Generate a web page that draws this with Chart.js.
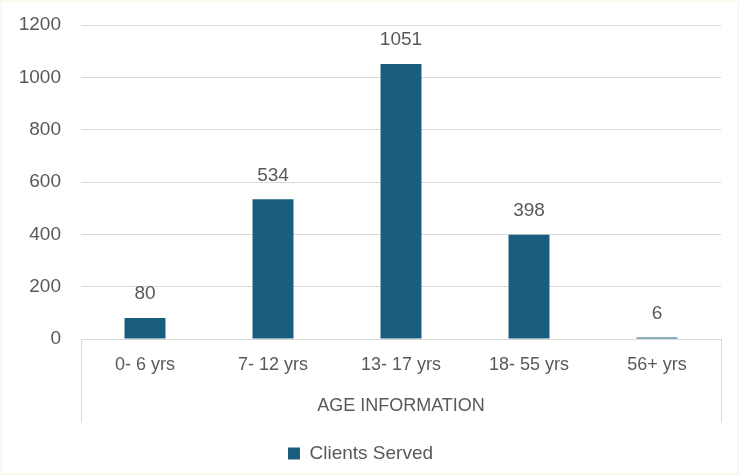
<!DOCTYPE html>
<html>
<head>
<meta charset="utf-8">
<script src="https://cdn.jsdelivr.net/npm/chart.js@4"></script>
<style>
  html, body { margin: 0; padding: 0; background: #ffffff; }
  #wrap { width: 739px; height: 475px; position: relative; }
</style>
</head>
<body>
<div id="wrap"><canvas id="ageChart" width="739" height="475"></canvas></div>
<script>
// Chart data
const ageGroups = ["0- 6 yrs", "7- 12 yrs", "13- 17 yrs", "18- 55 yrs", "56+ yrs"];
const clientsServed = [80, 534, 1051, 398, 6];
const yTicks = [0, 200, 400, 600, 800, 1000, 1200];
const seriesName = "Clients Served";
const axisTitle = "AGE INFORMATION";

const textColor = "#595959";
const barColor = "#1a5e7f";
const gridColor = "#d9d9d9";
const fontFamily = "'Liberation Sans', Arial, sans-serif";

// White page with a faint cream frame
const backgroundPlugin = {
  id: "background",
  beforeDraw(chart) {
    const ctx = chart.ctx;
    ctx.save();
    ctx.fillStyle = "#ffffff";
    ctx.fillRect(0, 0, chart.width, chart.height);
    ctx.strokeStyle = "#fdf8ee";
    ctx.lineWidth = 2;
    ctx.strokeRect(1, 1, chart.width - 2, chart.height - 2);
    ctx.restore();
  }
};

// Left and right edges of the category axis box
const axisBoxPlugin = {
  id: "axisBox",
  afterDraw(chart) {
    const area = chart.chartArea;
    const ctx = chart.ctx;
    ctx.save();
    ctx.strokeStyle = gridColor;
    ctx.lineWidth = 1;
    ctx.beginPath();
    ctx.moveTo(Math.round(area.left) + 0.5, area.bottom);
    ctx.lineTo(Math.round(area.left) + 0.5, area.bottom + 84);
    ctx.moveTo(Math.round(area.right) + 0.5, area.bottom);
    ctx.lineTo(Math.round(area.right) + 0.5, area.bottom + 84);
    ctx.stroke();
    ctx.restore();
  }
};

// Value labels over each bar
const valueLabelPlugin = {
  id: "valueLabels",
  afterDatasetsDraw(chart) {
    const ctx = chart.ctx;
    const meta = chart.getDatasetMeta(0);
    ctx.save();
    ctx.fillStyle = textColor;
    ctx.font = "19px " + fontFamily;
    ctx.textAlign = "center";
    ctx.textBaseline = "middle";
    meta.data.forEach((bar, i) => {
      ctx.fillText(String(clientsServed[i]), bar.x, bar.y - 24);
    });
    ctx.restore();
  }
};

const ctx = document.getElementById("ageChart").getContext("2d");
new Chart(ctx, {
  type: "bar",
  data: {
    labels: ageGroups,
    datasets: [{
      label: seriesName,
      data: clientsServed,
      backgroundColor: barColor,
      borderWidth: 0,
      categoryPercentage: 1,
      barPercentage: 0.32
    }]
  },
  options: {
    responsive: false,
    animation: false,
    devicePixelRatio: 1,
    layout: { padding: { top: 25, right: 18, left: 0, bottom: 2 } },
    plugins: {
      tooltip: { enabled: false },
      legend: {
        position: "bottom",
        labels: {
          color: textColor,
          font: { family: fontFamily, size: 19 },
          boxWidth: 12,
          boxHeight: 12,
          padding: 10
        }
      }
    },
    scales: {
      x: {
        grid: { display: false },
        border: { display: false },
        ticks: {
          color: textColor,
          font: { family: fontFamily, size: 18 },
          padding: 7,
          maxRotation: 0
        },
        title: {
          display: true,
          text: axisTitle,
          color: textColor,
          font: { family: fontFamily, size: 18 },
          padding: { top: 0, bottom: 17 }
        },
        afterFit(scale) { scale.height = 95; }
      },
      y: {
        min: 0,
        max: 1200,
        border: { display: false },
        grid: { color: gridColor, drawTicks: false },
        afterBuildTicks(scale) { scale.ticks = yTicks.map(v => ({ value: v })); },
        ticks: {
          color: textColor,
          font: { family: fontFamily, size: 19 },
          padding: 20,
          callback: v => String(v)
        },
        afterFit(scale) {
          scale.width = 81;
          scale.paddingTop = 0;
          scale.paddingBottom = 0;
        }
      }
    }
  },
  plugins: [backgroundPlugin, axisBoxPlugin, valueLabelPlugin]
});
</script>
</body>
</html>
